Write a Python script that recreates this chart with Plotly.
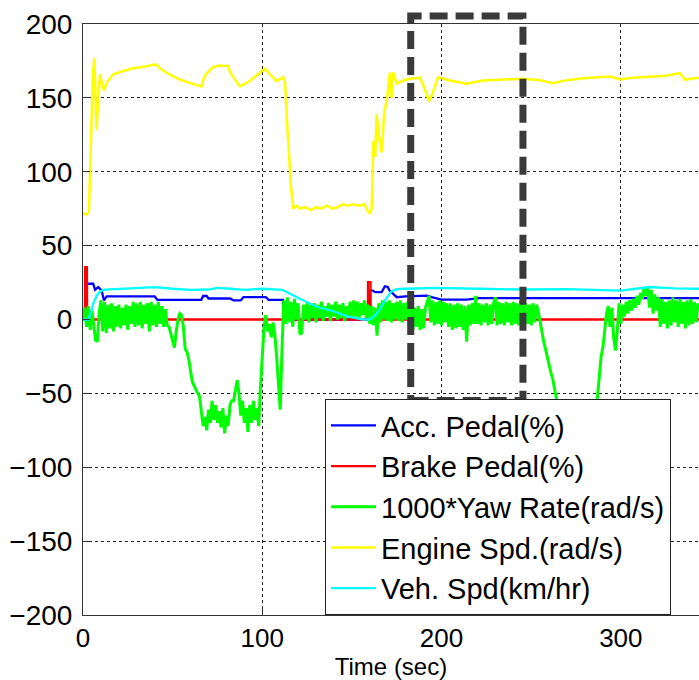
import plotly.graph_objects as go

# ---------------- signals ----------------
# Accelerator pedal position (%)
acc_t = [0, 1.8, 2.2, 5.7, 6.7, 8.5, 10.4, 11.7, 13.2, 40, 41.5, 66, 67, 69, 70, 82, 84, 88, 89.5,
         102, 103.5, 111.5, 112, 159.5, 160, 161.6, 163, 166.6, 168.4, 170, 171, 173, 175, 180,
         191.7, 195, 200, 214, 221, 343.6]
acc_v = [0, 0, 24.2, 24.2, 20.1, 21.9, 19.6, 12.9, 15.6, 15.6, 13.3, 13.3, 15.9, 15.9, 14.2, 14.2, 12.9, 12.9, 15.2,
         15.2, 13.3, 13.3, 0, 0, 19.6, 19.6, 18.5, 18.5, 22.5, 22, 19.6, 17.4, 15.1, 15.6,
         16.2, 15, 13.5, 13.5, 14.4, 14.4]

# Brake pedal position (%)
brake_t = [0, 1.1, 1.2, 2.2, 2.3, 158.9, 159.0, 160.4, 160.5, 343.6]
brake_v = [0, 0, 35.4, 35.4, 0, 0, 25.3, 25.3, 0, 0]

# Yaw rate x1000 (rad/s), one sample per second
yaw_t = list(range(0, 344))
yaw_v = [
    0, 8, -5, 9, -7, 6, -4, -14, -15, 4,
    13, -8, 12, -9, 10, -6, 11, -8, 9, -5,
    10, -6, 8, -4, 10, -7, 9, -3, 12, -5,
    11, -4, 12, -6, 10, -3, 11, -8, 12, -4,
    10, -5, 12, -3, 9, -5, 7, -4, -5, -10,
    -14, -19, -8, 0, 4, 3, -5, -20, -22, -27,
    -35, -42, -45, -48, -50, -52, -62, -72, -66, -75,
    -61, -70, -55, -68, -58, -70, -62, -73, -60, -77,
    -65, -72, -58, -55, -55, -48, -41, -50, -65, -55,
    -70, -60, -76, -58, -70, -55, -68, -60, -72, -45,
    -20, -5, 3, -8, -3, -12, -2, -10, -25, -45,
    -61, -20, 13, -3, 15, -2, 12, -5, 14, 0,
    11, -10, -9, 10, 0, 11, -2, 10, 1, 11,
    -2, 10, 1, 12, -1, 9, 2, 11, -1, 10,
    2, 12, 0, 10, 1, 11, -1, 9, 2, 12,
    1, 13, 2, 12, 0, 11, 3, 13, 1, 10,
    -3, 9, -4, 8, -11, 11, -2, 13, 0, 12,
    -1, 13, -2, 11, 0, 12, -1, 13, -2, 11,
    0, 12, -6, 9, -7, 8, -5, 9, -7, 7,
    -6, 8, 12, 16, -2, 13, -4, 12, -3, 13,
    -4, 12, -2, 11, -5, 11, -7, 10, -6, 11,
    -5, 10, -7, 9, -15, 10, -4, 11, -3, 16,
    -3, 11, -4, 10, -2, 11, -4, 10, -3, 11,
    15, -4, 12, -3, 11, -4, 12, -2, 11, -4,
    12, -3, 11, -4, 12, 13, -4, 11, -3, 10,
    -4, 11, -2, 10, 5, -2, -7, -15, -20, -26,
    -30, -36, -40, -46, -52, -60, -68, -72, -75, -72,
    -78, -74, -80, -75, -78, -72, -76, -70, -74, -71,
    -76, -72, -75, -70, -73, -68, -62, -52, -38, -25,
    -19, -7, 4, 9, -5, 8, -12, -21, -8, 11,
    -3, 10, 2, 12, 4, 13, 6, 14, 8, 16,
    10, 18, 14, 22, 16, 21, 8, 20, 4, 17,
    6, 15, -5, 14, -3, 12, -6, 13, -4, 15,
    -2, 13, -5, 14, -3, 12, -6, 13, -4, 14,
    -3, 12, -2, 11,
]

# Engine speed (rad/s)
eng_t = [0, 2, 3.3, 4.5, 5.5, 6.3, 7.0, 7.6, 8.5, 9.5, 10.5, 11.7, 13.5, 16.9, 22, 28, 34, 39, 41,
         44, 48, 54, 60, 65, 66.2, 67.5, 70, 72.6, 75.5, 81, 82, 85, 87.6, 92, 96.9, 101.5, 104.3,
         108, 111.7, 112.7, 114, 116, 117.3, 119, 121, 124, 127, 130, 133, 136, 139, 142, 145, 148,
         151, 154, 157, 158.5, 160, 161, 162, 163, 163.8, 165, 166.6, 168, 169.4, 170.3, 171.2,
         172.2, 173, 175, 178.7, 182.4, 186, 188, 190, 193, 195, 198, 204.7, 214, 223, 235, 245.4,
         255, 262, 270, 279, 294, 299.5, 305, 316, 325, 333, 335.7, 343.6]
eng_v = [72, 71, 73, 120, 165, 177, 150, 128, 150, 166, 160, 155, 161, 166, 168, 170, 171, 172.4, 172.4,
         169, 166, 162.4, 160, 158.4, 157.7, 164, 168, 170.7, 171.9, 171.5, 167.4, 162, 157.7, 160.6, 165, 169.7, 166,
         161.3, 164, 159.7, 130, 90, 75, 77, 75, 76, 74, 76, 75, 77, 75, 76, 78, 77,
         78, 77, 78, 74, 71.7, 75, 121, 110, 139, 125, 113, 140, 148, 160, 167,
         150, 167.4, 159.6, 161.8, 162.9, 163.5, 163.6, 158, 147.8, 153, 164, 161.8, 159.5, 161.8, 162.5, 162.9,
         162, 159.9, 162, 163.3, 164.5, 162.4, 163.5, 164.5, 165, 166.7, 162.4, 163.6]

# Vehicle speed (km/hr)
veh_t = [0, 3, 4.5, 5.7, 7.6, 9.5, 12, 20, 30, 40, 50, 60, 70, 75, 82, 90, 100, 106, 111, 113,
         115.4, 121, 130, 139.6, 148, 152, 156.3, 160, 163, 165.6, 169, 172, 175, 180, 197, 220,
         245, 270, 300, 316, 330, 343.6]
veh_v = [0, 0, 5, 10.8, 16, 19, 20.2, 20.7, 21.3, 21.9, 20.8, 20.1, 20.3, 21.4, 20.8, 20.1, 20.8, 20.4, 20.1, 19,
         17.4, 14, 8.8, 5.6, 2, 1, 0, 0, 3, 7, 14, 19, 20.5, 20.8, 21.4, 20.8,
         20.3, 20.6, 19.6, 22, 21, 20.8]

series = [
    ("Acc. Pedal(%)", acc_t, acc_v, "#0000FF", 2.3),
    ("Brake Pedal(%)", brake_t, brake_v, "#FF0000", 2.3),
    ("1000*Yaw Rate(rad/s)", yaw_t, yaw_v, "#00FF00", 3.0),
    ("Engine Spd.(rad/s)", eng_t, eng_v, "#FFFF00", 2.5),
    ("Veh. Spd(km/hr)", veh_t, veh_v, "#00FFFF", 2.3),
]

# highlighted time window (s) and its vertical extent (axis units)
window_t = [182.8, 245.4]
window_v = [-54.8, 205.4]

x_range = [0, 343.6]
y_range = [-200, 200]
x_ticks = [0, 100, 200, 300]
y_ticks = [-200, -150, -100, -50, 0, 50, 100, 150, 200]

FONT = "Liberation Sans, Arial, Helvetica, sans-serif"

fig = go.Figure()
for name, t, v, color, w in series:
    fig.add_trace(go.Scatter(x=t, y=v, mode="lines", name=name,
                             line=dict(color=color, width=w)))

axis_common = dict(
    showline=True, linecolor="#333333", linewidth=1,
    ticks="inside", ticklen=7, tickcolor="#333333", tickwidth=1,
    showgrid=True, gridcolor="#222222", gridwidth=1, griddash="dot",
    zeroline=False,
)

fig.update_layout(
    width=699, height=680,
    margin=dict(l=83, r=0, t=24, b=65, autoexpand=False),
    paper_bgcolor="white", plot_bgcolor="white",
    font=dict(family=FONT, color="black"),
    xaxis=dict(range=x_range, tickvals=x_ticks, mirror=True,
               tickfont=dict(size=26, color="black"),
               title=dict(text="Time (sec)", font=dict(size=24, color="black"), standoff=4),
               **axis_common),
    yaxis=dict(range=y_range, tickvals=y_ticks, mirror=False,
               tickfont=dict(size=28, color="black"), ticklabelstandoff=4,
               **axis_common),
    legend=dict(x=(325 - 83) / 616, y=(615 - 399) / 591, xanchor="left", yanchor="top",
                bgcolor="white", bordercolor="#222222", borderwidth=1,
                font=dict(size=29, color="black"), itemwidth=45),
    shapes=[dict(type="rect", xref="x", yref="paper",
                 x0=window_t[0], x1=window_t[1],
                 y0=(window_v[0] - y_range[0]) / (y_range[1] - y_range[0]),
                 y1=(window_v[1] - y_range[0]) / (y_range[1] - y_range[0]),
                 line=dict(color="#3a3a3a", width=7, dash="18px,8px"),
                 fillcolor="rgba(0,0,0,0)", layer="above")],
    showlegend=True,
)

fig.write_html("out.html")
